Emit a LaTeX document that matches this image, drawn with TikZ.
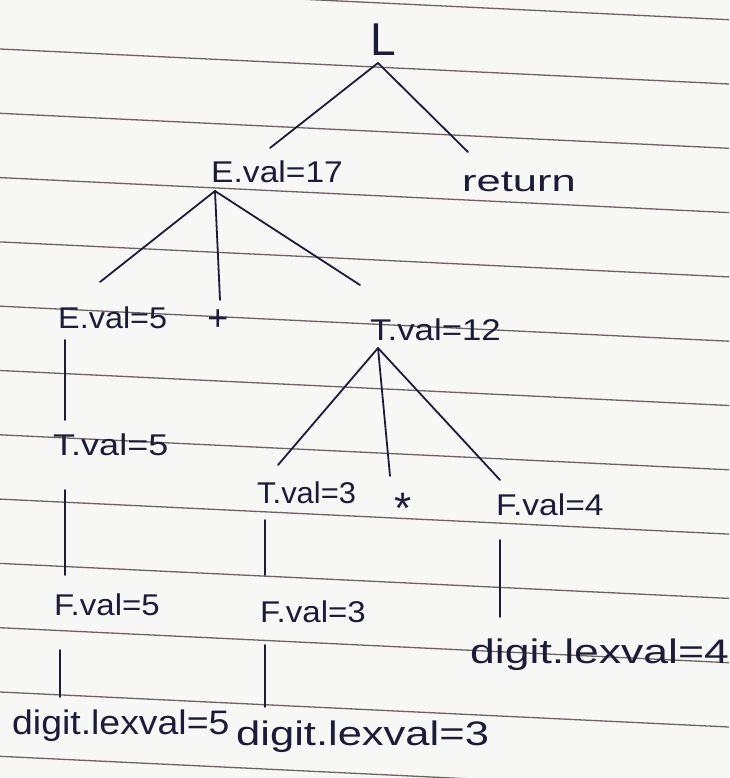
\documentclass[tikz,border=0pt]{standalone}
\usepackage{fontspec}
\setmainfont{Liberation Sans}
\definecolor{ink}{HTML}{1C1C3A}
\definecolor{paper}{HTML}{F7F7F5}
\definecolor{rule}{HTML}{6E6262}
\newcommand{\hw}[2]{\scalebox{#1}[1]{#2}}
\begin{document}
\begin{tikzpicture}[x=1pt,y=-1pt,
  lab/.style={text=ink,inner sep=0pt,anchor=west,font=\fontsize{30}{32}\selectfont},
  big/.style={lab,font=\fontsize{34}{36}\selectfont},
  edge/.style={draw=ink,line width=1.8pt,line cap=round}]
\fill[paper] (0,0) rectangle (729,778);
\useasboundingbox (0,0) rectangle (729,778);
% ruled lines of the paper
\foreach \k in {-1,...,11}{
  \draw[rule,line width=1.3pt] (0,{49+64.3*\k}) -- (729,{84+64.3*\k});
}
% nodes
\node[lab,anchor=center,font=\fontsize{46}{48}\selectfont] (L) at (383,40) {L};
\node[lab] (E17) at (211,172) {\hw{1.12}{E.val=17}};
\node[lab] (ret) at (462,182) {\hw{1.45}{return}};
\node[lab] (E5) at (58,318) {\hw{1.08}{E.val=5}};
\node[lab,anchor=center,font=\fontsize{36}{38}\selectfont] (plus) at (218,320) {+};
\node[lab] (T12) at (370,330) {\hw{1.16}{T.val=12}};
\node[lab] (T5) at (53,445) {\hw{1.2}{T.val=5}};
\node[lab] (T3) at (257,493) {\hw{1.03}{T.val=3}};
\node[lab,anchor=center,font=\fontsize{44}{46}\selectfont] (star) at (403,508) {*};
\node[lab] (F4) at (496,505) {\hw{1.12}{F.val=4}};
\node[lab] (F5) at (54,605) {\hw{1.1}{F.val=5}};
\node[lab] (F3) at (260,612) {\hw{1.1}{F.val=3}};
\node[big] (D4) at (470,655) {\hw{1.31}{digit.lexval=4}};
\node[big] (D5) at (12,726) {\hw{1.1}{digit.lexval=5}};
\node[big] (D3) at (236,737) {\hw{1.28}{digit.lexval=3}};
% connector end points
\coordinate (la) at (378,63);
\coordinate (l1) at (270,148);
\coordinate (l2) at (468,152);
\coordinate (ea) at (215,191);
\coordinate (e1) at (100,282);
\coordinate (e2) at (220,300);
\coordinate (e3) at (360,285);
\coordinate (ta) at (378,348);
\coordinate (t1) at (278,465);
\coordinate (t2) at (390,476);
\coordinate (t3) at (500,480);
\coordinate (a1) at (65,340);  \coordinate (a2) at (65,420);
\coordinate (b1) at (65,490);  \coordinate (b2) at (65,575);
\coordinate (c1) at (60,650);  \coordinate (c2) at (60,697);
\coordinate (d1) at (265,520); \coordinate (d2) at (265,575);
\coordinate (f1) at (265,645); \coordinate (f2) at (265,707);
\coordinate (g1) at (500,540); \coordinate (g2) at (500,617);
% connectors
\draw[edge] (la) -- (l1);
\draw[edge] (la) -- (l2);
\draw[edge] (ea) -- (e1);
\draw[edge] (ea) -- (e2);
\draw[edge] (ea) -- (e3);
\draw[edge] (ta) -- (t1);
\draw[edge] (ta) -- (t2);
\draw[edge] (ta) -- (t3);
\draw[edge] (a1) -- (a2);
\draw[edge] (b1) -- (b2);
\draw[edge] (c1) -- (c2);
\draw[edge] (d1) -- (d2);
\draw[edge] (f1) -- (f2);
\draw[edge] (g1) -- (g2);
\end{tikzpicture}
\end{document}
